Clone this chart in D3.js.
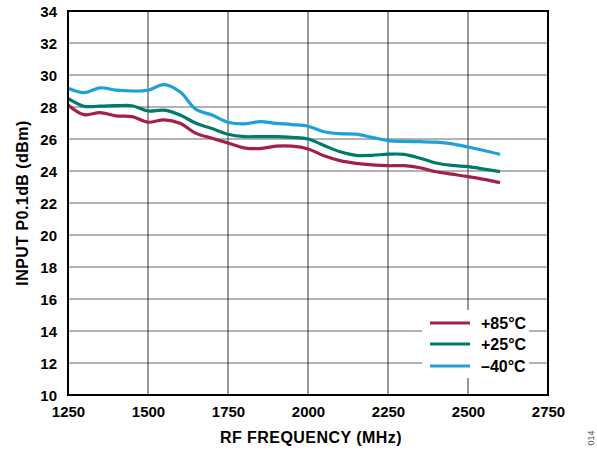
<!DOCTYPE html>
<html>
<head>
<meta charset="utf-8">
<script src="https://cdn.jsdelivr.net/npm/d3@7"></script>
<style>
body { margin: 0; background: #fff; }
svg text { font-family: "Liberation Sans", Arial, sans-serif; font-weight: bold; }
</style>
</head>
<body>
<svg id="chart" width="597" height="450"></svg>
<script>
const freqs = [1250,1300,1350,1400,1450,1500,1550,1600,1650,1700,1750,1800,1850,1900,1950,2000,2050,2100,2150,2200,2250,2300,2350,2400,2450,2500,2550,2600];
const p85 = [28.13,27.52,27.65,27.45,27.40,27.05,27.20,26.98,26.35,26.05,25.75,25.45,25.40,25.55,25.55,25.38,24.95,24.65,24.48,24.38,24.33,24.33,24.20,23.95,23.80,23.65,23.48,23.27];
const p25 = [28.54,28.05,28.05,28.08,28.08,27.75,27.80,27.50,26.98,26.65,26.30,26.15,26.15,26.15,26.10,26.00,25.60,25.20,24.98,24.98,25.05,25.04,24.80,24.50,24.35,24.27,24.12,23.96];
const m40 = [29.17,28.90,29.20,29.05,29.00,29.05,29.40,28.95,27.85,27.50,27.05,26.95,27.08,26.98,26.90,26.80,26.45,26.33,26.30,26.10,25.90,25.85,25.83,25.80,25.70,25.50,25.28,25.04];
const seriesNames = ["+85°C", "+25°C", "\u201340°C"];
const seriesColors = ["#A3204B", "#007A6C", "#1DA1D6"];
const xTicks = [1250,1500,1750,2000,2250,2500,2750];
const yTicks = [10,12,14,16,18,20,22,24,26,28,30,32,34];

const svg = d3.select("#chart");
const L = 68, R = 548, T = 11, B = 395;
const x = d3.scaleLinear().domain([1250, 2750]).range([L, R]);
const y = d3.scaleLinear().domain([10, 34]).range([B, T]);

// horizontal grid
svg.append("g").selectAll("line").data(yTicks.slice(1)).join("line")
  .attr("x1", L).attr("x2", R).attr("y1", d => y(d)).attr("y2", d => y(d))
  .attr("stroke", "#999").attr("stroke-width", 1.3);
// vertical grid
svg.append("g").selectAll("line").data(xTicks.slice(1, -1)).join("line")
  .attr("x1", d => x(d)).attr("x2", d => x(d)).attr("y1", T).attr("y2", B)
  .attr("stroke", "#333").attr("stroke-width", 1);

// legend background
svg.append("rect").attr("x", 422).attr("y", 310).attr("width", 107).attr("height", 68).attr("fill", "#fff");

// lines
const series = [p85, p25, m40];
const line = d3.line().x((d, i) => x(freqs[i])).y(d => y(d)).curve(d3.curveCatmullRom.alpha(0.5));
series.forEach((s, k) => {
  svg.append("path").datum(s).attr("d", line)
    .attr("fill", "none").attr("stroke", seriesColors[k]).attr("stroke-width", 3.2)
    .attr("stroke-linejoin", "round").attr("stroke-linecap", "butt");
});

// frame
svg.append("rect").attr("x", L).attr("y", T).attr("width", R - L).attr("height", B - T)
  .attr("fill", "none").attr("stroke", "#000").attr("stroke-width", 2);

// axes labels
const xAxis = d3.axisBottom(x).tickValues(xTicks).tickSize(0).tickPadding(11).tickFormat(d3.format("d"));
const gx = svg.append("g").attr("transform", `translate(0,${B})`).call(xAxis);
gx.select(".domain").remove();
gx.selectAll("text").attr("font-size", 15).attr("fill", "#000");

const yAxis = d3.axisLeft(y).tickValues(yTicks).tickSize(0).tickPadding(11).tickFormat(d3.format("d"));
const gy = svg.append("g").attr("transform", `translate(${L},1)`).call(yAxis);
gy.select(".domain").remove();
gy.selectAll("text").attr("font-size", 15).attr("fill", "#000");

// titles
svg.append("text").attr("x", (L + R) / 2 + 3).attr("y", 443).attr("text-anchor", "middle")
  .attr("font-size", 16).attr("letter-spacing", 0.45).text("RF FREQUENCY (MHz)");
svg.append("text").attr("transform", `translate(28,${(T + B) / 2}) rotate(-90)`)
  .attr("text-anchor", "middle").attr("font-size", 16).attr("letter-spacing", 0.45).text("INPUT P0.1dB (dBm)");

// legend
const ly = [323, 344, 366];
seriesNames.forEach((n, k) => {
  svg.append("line").attr("x1", 430).attr("x2", 470).attr("y1", ly[k]).attr("y2", ly[k])
    .attr("stroke", seriesColors[k]).attr("stroke-width", 3.2);
  svg.append("text").attr("x", 481).attr("y", ly[k] + 6).attr("font-size", 16).text(n);
});

// figure id
svg.append("text").attr("transform", "translate(594,438) rotate(-90)").attr("text-anchor", "middle")
  .attr("font-size", 9).attr("fill", "#555").style("font-weight", "normal").text("014");
</script>
</body>
</html>
